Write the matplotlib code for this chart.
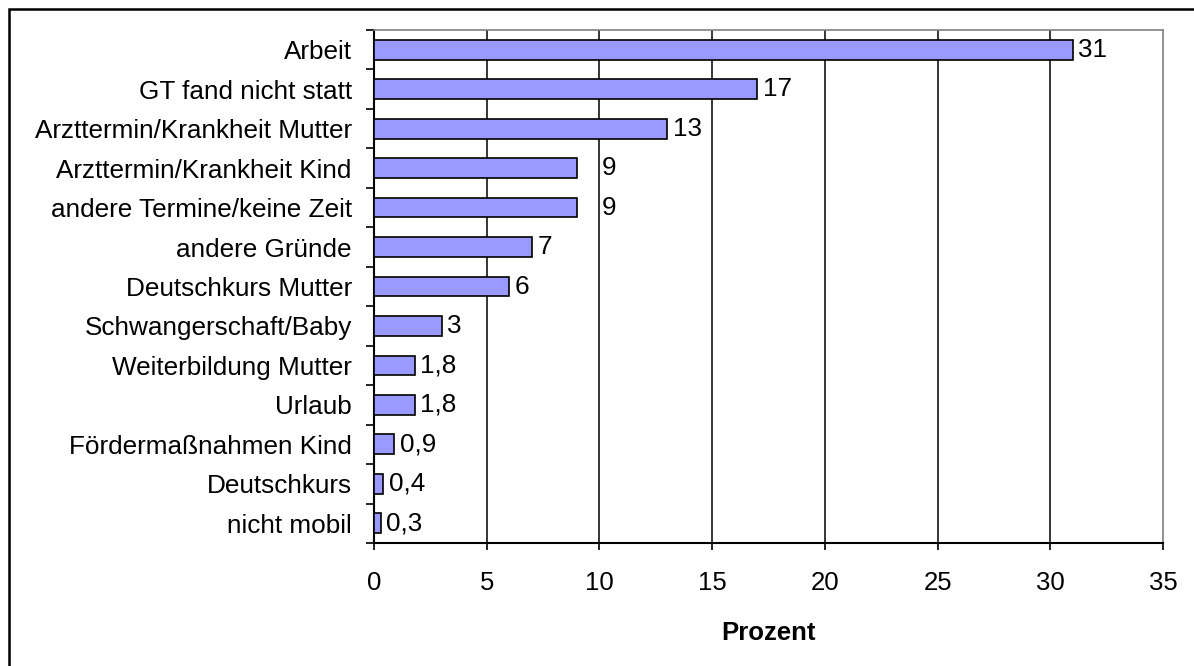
import matplotlib
matplotlib.use("Agg")
import matplotlib.pyplot as plt
from matplotlib.patches import Rectangle
import numpy as np

categories = ["Arbeit", "GT fand nicht statt", "Arzttermin/Krankheit Mutter",
              "Arzttermin/Krankheit Kind", "andere Termine/keine Zeit", "andere Gründe",
              "Deutschkurs Mutter", "Schwangerschaft/Baby", "Weiterbildung Mutter",
              "Urlaub", "Fördermaßnahmen Kind", "Deutschkurs", "nicht mobil"]
values = [31, 17, 13, 9, 9, 7, 6, 3, 1.8, 1.8, 0.9, 0.4, 0.3]
labels = ["31", "17", "13", "9", "9", "7", "6", "3", "1,8", "1,8", "0,9", "0,4", "0,3"]
xticks = [0, 5, 10, 15, 20, 25, 30, 35]

plt.rcParams['font.family'] = ['Liberation Sans', 'DejaVu Sans']

fig = plt.figure(figsize=(11.94, 6.66), dpi=100)
W, H = 1194, 666
ax = fig.add_axes([374 / W, 1 - 543 / H, (1163 - 374) / W, (543 - 30) / H])

n = len(categories)
y = np.arange(n)
ax.barh(y, values, height=0.5, color="#9999FF", edgecolor="black", linewidth=1.2, zorder=3)

ax.set_xlim(0, 35)
ax.set_ylim(n - 0.5, -0.5)
ax.set_xticks(xticks)
ax.set_xticklabels([str(t) for t in xticks], fontsize=18.5)
ax.set_yticks(y)
ax.set_yticklabels(categories, fontsize=18.8)
ax.set_yticks(np.arange(n + 1) - 0.5, minor=True)
ax.tick_params(axis="y", which="major", length=0, pad=16)
ax.tick_params(axis="y", which="minor", length=6, width=1.2, direction="out")
ax.tick_params(axis="x", which="major", length=5, width=1.2, direction="out", pad=15)

for xv in xticks[1:-1]:
    ax.axvline(xv, color="black", linewidth=1.1, zorder=1)

for s in ["top", "right"]:
    ax.spines[s].set_color("#808080")
    ax.spines[s].set_linewidth(1.2)
for s in ["left", "bottom"]:
    ax.spines[s].set_color("black")
    ax.spines[s].set_linewidth(1.5)

# label offsets (points); the two "9" labels sit further right as in the original
offsets = [4, 4, 4, 18, 18, 4, 4, 4, 4, 4, 4, 4, 4]
for yi, v, lab, off in zip(y, values, labels, offsets):
    ax.annotate(lab, xy=(v, yi), xytext=(off, 0), textcoords="offset points",
                va="center", ha="left", fontsize=18.8)

ax.set_xlabel("Prozent", fontsize=18.5, fontweight="bold", labelpad=19)

fig.patches.append(Rectangle((9 / W, -0.1), 1.2, 1 - 9 / H + 0.1, transform=fig.transFigure,
                             fill=False, edgecolor="black", linewidth=1.8))

fig.savefig("out.png", dpi=100)
